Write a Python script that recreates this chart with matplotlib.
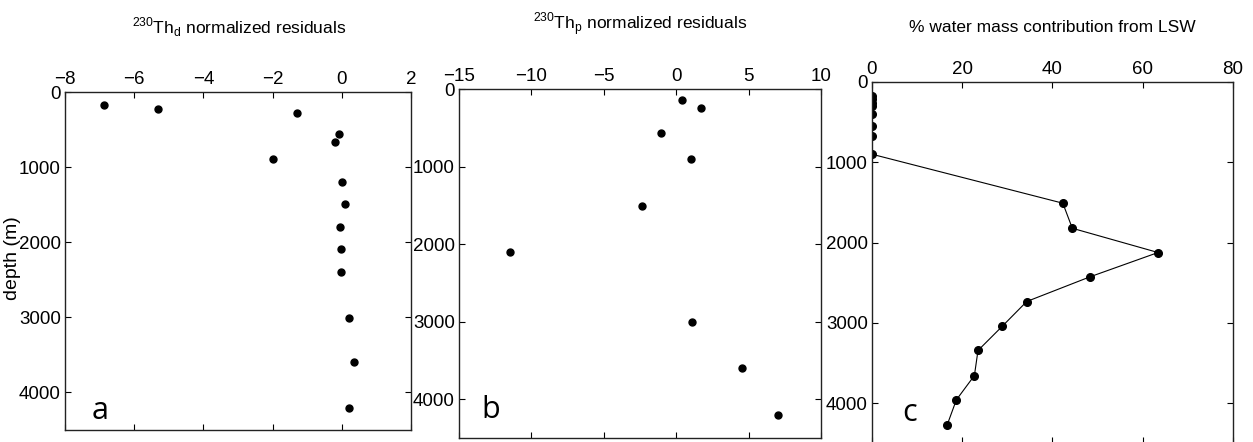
import matplotlib
matplotlib.use('Agg')
import matplotlib.pyplot as plt

plt.rcParams['font.family'] = ['Liberation Sans Narrow', 'Liberation Sans', 'DejaVu Sans']
plt.rcParams['mathtext.fontset'] = 'custom'
plt.rcParams['mathtext.rm'] = 'Liberation Sans'
plt.rcParams['axes.unicode_minus'] = True

# panel a: 230Th dissolved residuals
thd_res = [-6.86, -5.31, -1.29, -0.07, -0.20, -1.98, 0.02, 0.09, -0.04, -0.03, -0.03, 0.20, 0.34, 0.20]
thd_depth = [174, 222, 276, 561, 659, 895, 1193, 1491, 1798, 2096, 2394, 3004, 3600, 4201]

# panel b: 230Th particulate residuals
thp_res = [0.39, 1.73, -1.06, 1.01, -2.37, -11.50, 1.08, 4.56, 7.05]
thp_depth = [137, 248, 564, 906, 1509, 2107, 3004, 3603, 4201]

# panel c: LSW contribution
lsw_pct = [0, 0, 0, 0, 0, 0, 0, 0, 42.3, 44.4, 63.4, 48.3, 34.3, 28.9, 23.5, 22.7, 18.7, 16.7]
lsw_depth = [170, 215, 260, 300, 394, 552, 668, 900, 1510, 1822, 2124, 2427, 2734, 3041, 3344, 3656, 3959, 4266]

fig = plt.figure(figsize=(12.53, 4.42), dpi=100)

ax_a = fig.add_axes([0.0519, 0.0271, 0.2761, 0.7647])
ax_b = fig.add_axes([0.3663, 0.0090, 0.2889, 0.7896])
ax_c = fig.add_axes([0.6959, -0.0030, 0.2881, 0.8176])


def style(ax, xlim, xticks):
    ax.set_xlim(xlim)
    ax.set_xticks(xticks)
    ax.set_ylim(4500, 0)
    ax.set_yticks([0, 1000, 2000, 3000, 4000])
    ax.tick_params(axis='x', top=True, bottom=True, labeltop=True, labelbottom=False,
                   direction='in', length=4, labelsize=13.5, pad=3)
    ax.tick_params(axis='y', left=True, right=True, direction='in', length=4,
                   labelsize=13.5, pad=3)
    for s in ax.spines.values():
        s.set_linewidth(1.0)
        s.set_color('#222222')


ax_a.plot(thd_res, thd_depth, 'o', color='black', markersize=5)
style(ax_a, (-8, 2), [-8, -6, -4, -2, 0, 2])
ax_a.text(0.10, 0.056, 'a', transform=ax_a.transAxes, ha='center', va='center',
          fontsize=22, family=['Open Sans', 'DejaVu Sans'])

ax_b.plot(thp_res, thp_depth, 'o', color='black', markersize=5)
style(ax_b, (-15, 10), [-15, -10, -5, 0, 5, 10])
ax_b.text(0.088, 0.08, 'b', transform=ax_b.transAxes, ha='center', va='center',
          fontsize=22, family=['Open Sans', 'DejaVu Sans'])

ax_c.plot(lsw_pct, lsw_depth, '-o', color='black', lw=0.8, markersize=5.5)
style(ax_c, (0, 80), [0, 20, 40, 60, 80])
ax_c.text(0.105, 0.083, 'c', transform=ax_c.transAxes, ha='center', va='center',
          fontsize=22, family=['Open Sans', 'DejaVu Sans'])

fig.text(0.1907, 0.939, r'$^{230}\mathrm{Th}_{\mathrm{d}}$ normalized residuals',
         ha='center', va='center', fontsize=12.5)
fig.text(0.511, 0.946, r'$^{230}\mathrm{Th}_{\mathrm{p}}$ normalized residuals',
         ha='center', va='center', fontsize=12.5)
fig.text(0.840, 0.937, '% water mass contribution from LSW',
         ha='center', va='center', fontsize=12.5)

fig.text(0.010, 0.416, 'depth (m)', rotation=90, ha='center', va='center',
         fontsize=14, family=['Liberation Sans', 'DejaVu Sans'])

fig.savefig('out.png', dpi=100)
